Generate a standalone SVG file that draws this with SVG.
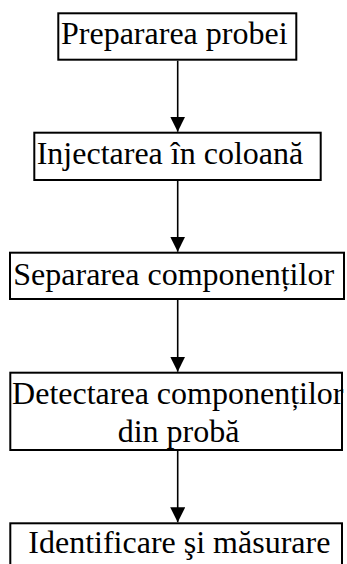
<svg xmlns="http://www.w3.org/2000/svg" width="347" height="564" viewBox="0 0 347 564">
<style>
.box{fill:#fff;stroke:#000;stroke-width:2}
.lbl{font-family:"Liberation Serif","Times New Roman",serif;font-size:32px;fill:#000}
.conn{stroke:#000;stroke-width:1.6;fill:none;marker-end:url(#arr)}
</style>
<defs>
<marker id="arr" markerUnits="userSpaceOnUse" markerWidth="15" markerHeight="15" refX="15" refY="7.5" orient="auto">
<path d="M0,0 L15,7.5 L0,15 z" fill="#000"/>
</marker>
</defs>
<rect width="347" height="564" fill="#fff"/>
<g id="connectors">
<path class="conn" d="M177.7,60.7 V131.7"/>
<path class="conn" d="M177.7,181 V251.7"/>
<path class="conn" d="M177.7,300 V371.7"/>
<path class="conn" d="M177.7,450.7 V522.3"/>
</g>
<g id="n1">
<rect class="box" x="58.3" y="13.3" width="238" height="46.4"/>
<text class="lbl" x="61" y="44.3">Prepararea probei</text>
</g>
<g id="n2">
<rect class="box" x="34.3" y="132.7" width="286.4" height="47.3"/>
<text class="lbl" x="36.7" y="163.8">Injectarea în coloană</text>
</g>
<g id="n3">
<rect class="box" x="10" y="252.7" width="334" height="46.3"/>
<text class="lbl" x="13.3" y="285">Separarea componenților</text>
</g>
<g id="n4">
<rect class="box" x="10.3" y="372.7" width="331.7" height="77.3"/>
<text class="lbl" x="177.8" y="404" text-anchor="middle">Detectarea componenților</text>
<text class="lbl" x="178.5" y="441.7" text-anchor="middle">din probă</text>
</g>
<g id="n5">
<rect class="box" x="10.3" y="523.3" width="331.7" height="60"/>
<text class="lbl" x="28.3" y="553.3">Identificare şi măsurare</text>
</g>
</svg>
